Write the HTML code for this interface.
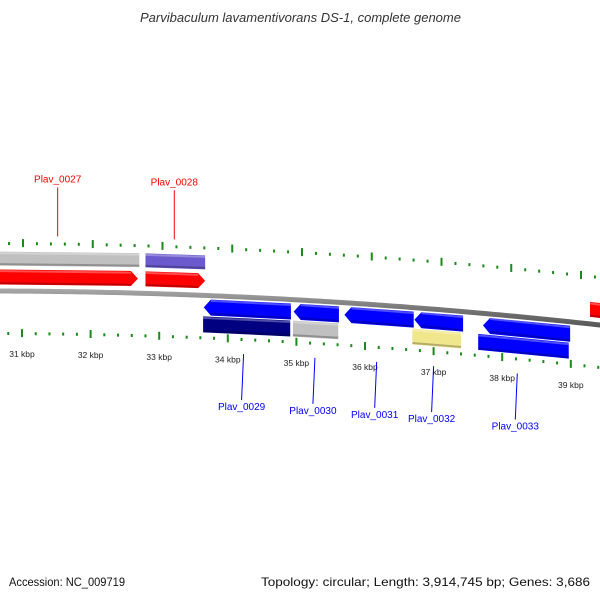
<!DOCTYPE html>
<html><head><meta charset="utf-8">
<style>
html,body{margin:0;padding:0;background:#fff;}
svg{display:block;font-family:"Liberation Sans","DejaVu Sans",sans-serif;}
</style></head>
<body>
<svg id="map" width="600" height="600" viewBox="0 0 600 600" xmlns="http://www.w3.org/2000/svg">
<defs>
  <linearGradient id="gbb" x1="0" y1="0" x2="0" y2="1"><stop offset="0" stop-color="#aaa"/><stop offset="0.5" stop-color="#777"/><stop offset="1" stop-color="#555"/></linearGradient>
</defs>
<text x="140" y="22" font-size="13" font-style="italic" fill="#333" textLength="321" lengthAdjust="spacingAndGlyphs">Parvibaculum lavamentivorans DS-1, complete genome</text>
<g id="ticks"></g>
<g id="genes"></g>
<g id="labels"></g>
<text x="9" y="586" font-size="12" fill="#111" textLength="116" lengthAdjust="spacingAndGlyphs">Accession: NC_009719</text>
<text x="261" y="586" font-size="12" fill="#111" textLength="329" lengthAdjust="spacingAndGlyphs">Topology: circular; Length: 3,914,745 bp; Genes: 3,686</text>
</svg>
<script>
// data
const tickKbp = [30, 31, 32, 33, 34, 35, 36, 37, 38, 39, 40];
const tickLabels = ["30 kbp","31 kbp","32 kbp","33 kbp","34 kbp","35 kbp","36 kbp","37 kbp","38 kbp","39 kbp","40 kbp"];
const geneStart = [30.0, 32.80, 30.0, 32.80, 33.65, 34.96, 35.70, 36.72, 37.72, 39.28, 33.64, 34.95, 36.69, 37.65];
const geneEnd   = [32.71, 33.67, 32.69, 33.67, 34.92, 35.62, 36.71, 37.43, 38.99, 40.2, 34.91, 35.61, 37.40, 38.97];
const geneRow   = [1, 1, 2, 2, 3, 3, 3, 3, 3, 2, 4, 4, 4, 4];
const geneDir   = [0, 0, 1, 1, -1, -1, -1, -1, -1, 1, 0, 0, 0, 0];
const geneColor = ["#c0c0c0","#6a5acd","#ff0000","#ff0000","#0000ff","#0000ff","#0000ff","#0000ff","#0000ff","#ff0000","#000080","#c0c0c0","#f0e68c","#0000ff"];
const geneNames = ["Plav_0027","Plav_0028","Plav_0029","Plav_0030","Plav_0031","Plav_0032","Plav_0033"];
const labelKbp  = [31.52, 33.22, 34.23, 35.27, 36.17, 37.0, 38.22];
const labelSide = [-1, -1, 1, 1, 1, 1, 1];

const NS="http://www.w3.org/2000/svg";
const xs = k => 22 + (k-31)*68.6;
const xt = k => 23 + (k-31)*69.75;
const curve = x => 291 + 0.0033*x + 8.9e-5*x*x;
const rowOff = {1:[-40,-26],2:[-22,-7],3:[4,20],4:[21,37]};
function mk(tag, attrs, parent){const e=document.createElementNS(NS,tag);for(const k in attrs)e.setAttribute(k,attrs[k]);parent.appendChild(e);return e;}

const tg=document.getElementById('ticks');
let bb=[];for(let x=-5;x<=605;x+=5)bb.push([x,curve(x)]);
const bpath="M"+bb.map(p=>p[0]+","+(p[1]-2.5)).join(" L")+" L"+bb.slice().reverse().map(p=>p[0]+","+(p[1]+2.5)).join(" L")+"Z";
const bbEl=mk('path',{d:bpath,fill:"url(#gbb)"},tg);



for(let i=0;i<tickKbp.length;i++){
  for(let j=0;j<5;j++){
    const k=tickKbp[i]+j*0.2;
    const x1=xt(k), y1=curve(x1)-48;
    const m1=mk('rect',j==0?{x:x1-1,y:y1-4,width:2,height:8,fill:"#1a8a1a"}:{x:x1-1,y:y1-1,width:2,height:3,fill:"#1a8a1a"},tg);
    
    
    const x2=xs(k), y2=curve(x2)+42;
    const m2=mk('rect',j==0?{x:x2-1,y:y2-4,width:2,height:8,fill:"#1a8a1a"}:{x:x2-1,y:y2-1,width:2,height:3,fill:"#1a8a1a"},tg);
    
    
  }
  const lx=xs(tickKbp[i]);
  const t=mk('text',{x:lx,y:curve(lx)+66,"text-anchor":"middle","font-size":"8.5",fill:"#222"},tg);
  t.textContent=tickLabels[i];
  
  
}

const gg=document.getElementById('genes');
for(let i=0;i<geneStart.length;i++){
  const a=xs(geneStart[i]), b=xs(geneEnd[i]);
  const [o1,o2]=rowOff[geneRow[i]];
  const om=(o1+o2)/2, h=7;
  let pts;
  if(geneDir[i]==1){
    pts=[[a,curve(a)+o1],[b-h,curve(b-h)+o1],[b,curve(b)+om],[b-h,curve(b-h)+o2],[a,curve(a)+o2]];
  } else if(geneDir[i]==-1){
    pts=[[a+h,curve(a+h)+o1],[b,curve(b)+o1],[b,curve(b)+o2],[a+h,curve(a+h)+o2],[a,curve(a)+om]];
  } else {
    pts=[[a,curve(a)+o1],[b,curve(b)+o1],[b,curve(b)+o2],[a,curve(a)+o2]];
  }
  const p=mk('polygon',{points:pts.map(q=>q.join(",")).join(" "),fill:geneColor[i]},gg);
  
  
  const hl=mk('line',{x1:a+(geneDir[i]==-1?h:0),y1:curve(a)+o1+1.5,x2:b-(geneDir[i]==1?h:0),y2:curve(b)+o1+1.5,stroke:"#fff","stroke-opacity":"0.3","stroke-width":"2"},gg);
  
  
  const sh=mk('line',{x1:a+(geneDir[i]==-1?h:0),y1:curve(a)+o2-1.5,x2:b-(geneDir[i]==1?h:0),y2:curve(b)+o2-1.5,stroke:"#000","stroke-opacity":"0.25","stroke-width":"2"},gg);
  
  
}

const lg=document.getElementById('labels');
for(let i=0;i<geneNames.length;i++){
  const x=xs(labelKbp[i]);
  const col=labelSide[i]<0?"#ff0000":"#0000ff";
  let ya,yb,ty;
  if(labelSide[i]<0){ya=curve(x)-55;yb=curve(x)-104;ty=yb-5;}
  else{ya=curve(x)+57;yb=curve(x)+103;ty=yb+10;}
  const ln=mk('line',{x1:x,y1:ya,x2:x-(labelSide[i]>0?2:0),y2:yb,stroke:col,"stroke-width":"1"},lg);
  
  
  const t=mk('text',{x:x-(labelSide[i]>0?2:0),y:ty,"text-anchor":"middle","font-size":"10",fill:col},lg);
  t.textContent=geneNames[i];
  
  
}
</script>
</body></html>
